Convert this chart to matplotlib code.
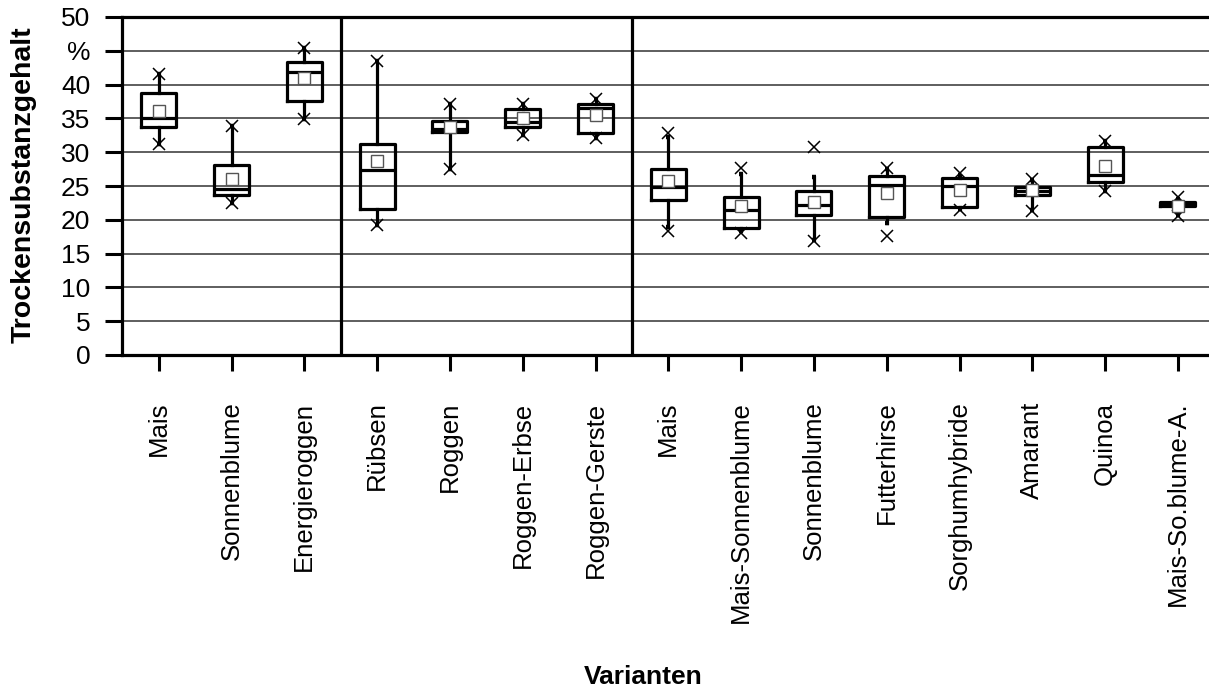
import matplotlib
matplotlib.use("Agg")
import matplotlib.pyplot as plt

plt.rcParams['font.family'] = ['Liberation Sans', 'DejaVu Sans']

categories = ["Mais", "Sonnenblume", "Energieroggen", "Rübsen", "Roggen",
              "Roggen-Erbse", "Roggen-Gerste", "Mais", "Mais-Sonnenblume",
              "Sonnenblume", "Futterhirse", "Sorghumhybride", "Amarant",
              "Quinoa", "Mais-So.blume-A."]

minimum = [31.2, 22.5, 34.9, 19.2, 27.5, 32.6, 32.1, 18.3, 18.1, 16.9, 17.6, 21.4, 21.3, 24.2, 20.5]
whisker_low = [31.2, 22.5, 34.9, 19.2, 27.5, 32.6, 32.1, 19.0, 18.3, 17.0, 19.5, 21.6, 21.4, 24.2, 20.7]
q1 = [33.7, 23.6, 37.6, 21.6, 33.0, 33.7, 32.9, 22.9, 18.8, 20.7, 20.4, 21.9, 23.7, 25.6, 22.0]
median = [35.1, 24.5, 41.9, 27.3, 33.4, 34.5, 36.6, 24.8, 21.5, 22.2, 25.2, 25.0, 24.3, 26.7, 22.3]
q3 = [38.8, 28.1, 43.4, 31.2, 34.6, 36.4, 37.2, 27.5, 23.4, 24.2, 26.5, 26.2, 24.9, 30.8, 22.7]
whisker_high = [41.5, 33.9, 45.4, 43.5, 37.2, 37.2, 37.8, 32.2, 26.8, 26.3, 27.5, 26.7, 25.9, 31.6, 23.1]
maximum = [41.5, 33.9, 45.4, 43.5, 37.2, 37.2, 37.8, 32.9, 27.7, 30.8, 27.7, 26.9, 26.1, 31.6, 23.3]
mean = [36.1, 26.0, 41.0, 28.7, 33.8, 35.0, 35.5, 25.8, 22.1, 22.7, 23.9, 24.4, 24.4, 28.0, 22.1]

y_ticks = [0, 5, 10, 15, 20, 25, 30, 35, 40, 45, 50]
y_ticklabels = ["0", "5", "10", "15", "20", "25", "30", "35", "40", "%", "50"]
group_breaks = [2.5, 6.5]

W, H = 1209, 689
fig = plt.figure(figsize=(W / 100, H / 100), dpi=100)
ax = fig.add_axes([122.3 / W, 1 - 355 / H, 1092 / W, 338 / H])

stats = []
for i in range(len(categories)):
    stats.append(dict(med=median[i], q1=q1[i], q3=q3[i],
                      whislo=whisker_low[i], whishi=whisker_high[i],
                      mean=mean[i], fliers=[minimum[i], maximum[i]]))

positions = list(range(len(categories)))
lw = 2.3
ax.bxp(stats, positions=positions, widths=0.48, showmeans=True,
       showfliers=True, capwidths=0.05,
       boxprops=dict(color='black', linewidth=lw),
       medianprops=dict(color='black', linewidth=lw),
       whiskerprops=dict(color='black', linewidth=lw),
       capprops=dict(color='black', linewidth=3.2, solid_capstyle='butt'),
       meanprops=dict(marker='s', markerfacecolor='white',
                      markeredgecolor='#555555', markersize=8,
                      markeredgewidth=1.0),
       flierprops=dict(marker='x', markeredgecolor='black',
                       markersize=9, markeredgewidth=1.1),
       zorder=3)

for xb in group_breaks:
    ax.axvline(xb, color='black', linewidth=2.3, zorder=4)

ax.set_xlim(-0.5, len(categories) - 0.5)
ax.set_ylim(0, 50)
ax.set_yticks(y_ticks)
ax.set_yticklabels(y_ticklabels, fontsize=19)
ax.set_xticks(positions)
ax.set_xticklabels(categories, rotation=90, fontsize=18.5, va='top', ha='center')

ax.yaxis.grid(True, color='#333333', linewidth=1.1)
ax.set_axisbelow(True)

for side in ['left', 'bottom', 'top']:
    ax.spines[side].set_linewidth(2.3)
    ax.spines[side].set_color('black')
ax.spines['right'].set_visible(False)

ax.tick_params(axis='y', direction='out', length=12, width=2.2, pad=11)
ax.tick_params(axis='x', direction='out', length=11.5, width=2.2, pad=22)

fig.text(24 / W, 1 - 185 / H, "Trockensubstanzgehalt", rotation=90,
         ha='center', va='center', fontsize=20.5, fontweight='bold')
fig.text(643 / W, 1 - 677 / H, "Varianten", ha='center', va='center',
         fontsize=19, fontweight='bold')

fig.savefig("out.png", dpi=100)
